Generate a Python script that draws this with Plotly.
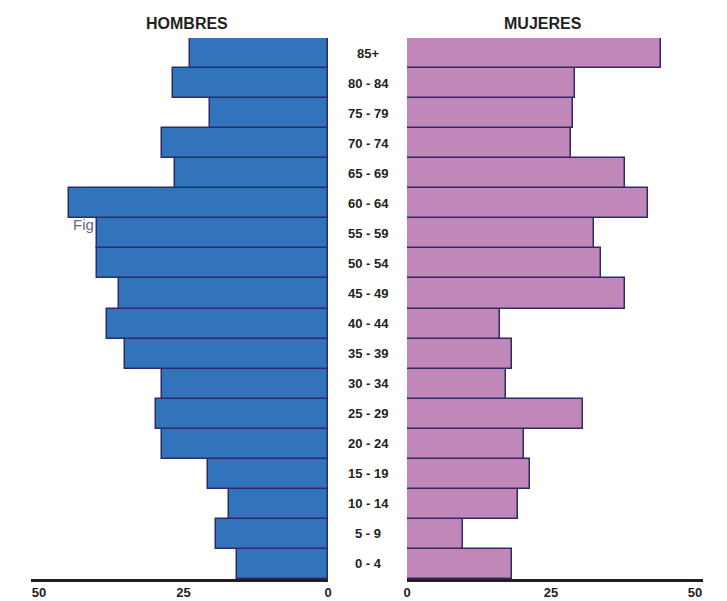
import plotly.graph_objects as go

categories = ["0 - 4", "5 - 9", "10 - 14", "15 - 19", "20 - 24", "25 - 29", "30 - 34",
              "35 - 39", "40 - 44", "45 - 49", "50 - 54", "55 - 59", "60 - 64",
              "65 - 69", "70 - 74", "75 - 79", "80 - 84", "85+"]
hombres = [15.7, 19.3, 17.2, 20.7, 28.8, 29.7, 28.8, 35.1, 38.3, 36.1, 40.0, 40.0, 44.9,
           26.5, 28.8, 20.5, 26.9, 23.8]
mujeres = [18.2, 9.7, 19.3, 21.4, 20.3, 30.6, 17.2, 18.2, 16.1, 37.8, 33.7, 32.5, 41.8,
           37.8, 28.5, 28.8, 29.2, 44.1]
tick_vals = [0, 25, 50]
tick_text = ["0", "25", "50"]

OFF = 8  # page body margin
W, H = 727 - OFF, 601 - OFF
ml, mr, mt, mb = 31 - OFF, 24, 38 - OFF, 22
pw = W - ml - mr
ph = H - mt - mb
def px(x):
    return (x - OFF - ml) / pw
def py(y):
    return 1 - (y - OFF - mt) / ph

dark = "#231f20"
outline = "#2e2a69"
font_fam = "Liberation Sans, Arial, sans-serif"

fig = go.Figure()
fig.add_trace(go.Bar(y=categories, x=hombres, orientation="h", xaxis="x", yaxis="y",
                     marker=dict(color="#3174bc", line=dict(color=outline, width=1.5)),
                     showlegend=False, hoverinfo="x+y"))
fig.add_trace(go.Bar(y=categories, x=mujeres, orientation="h", xaxis="x2", yaxis="y",
                     marker=dict(color="#c287b9", line=dict(color=outline, width=1.5)),
                     showlegend=False, hoverinfo="x+y"))

axis_common = dict(showgrid=False, zeroline=False, showline=True, linecolor=dark, linewidth=2.5,
                   tickvals=tick_vals, ticktext=tick_text, ticks="", fixedrange=True,
                   automargin=False,
                   tickfont=dict(family=font_fam, size=13, color=dark, weight="bold"))

annotations = []
for c in categories:
    annotations.append(dict(x=px(368), y=c, xref="paper", yref="y", text=c, showarrow=False,
                            font=dict(family=font_fam, size=13, color=dark, weight="bold"),
                            xanchor="center", yanchor="middle"))
annotations.append(dict(x=px(187), y=py(24), xref="paper", yref="paper",
                        text="HOMBRES", showarrow=False, xanchor="center", yanchor="middle",
                        font=dict(family=font_fam, size=16, color=dark, weight="bold")))
annotations.append(dict(x=px(543), y=py(24), xref="paper", yref="paper",
                        text="MUJERES", showarrow=False, xanchor="center", yanchor="middle",
                        font=dict(family=font_fam, size=16, color=dark, weight="bold")))
annotations.append(dict(x=px(71), y=py(224), xref="paper", yref="paper",
                        text="Fig", showarrow=False, xanchor="left", yanchor="middle",
                        font=dict(family=font_fam, size=15, color="#6d5f8f")))

fig.update_layout(
    width=W, height=H,
    margin=dict(l=ml, r=mr, t=mt, b=mb),
    paper_bgcolor="white", plot_bgcolor="white",
    bargap=0,
    xaxis=dict(domain=[0, px(328)], range=[51.4, 0], anchor="y", **axis_common),
    xaxis2=dict(domain=[px(407), 1], range=[0, 51.4], anchor="y", **axis_common),
    yaxis=dict(showticklabels=False, showgrid=False, zeroline=False, showline=False,
               range=[-0.5, 17.5], categoryorder="array", categoryarray=categories,
               fixedrange=True, automargin=False),
    annotations=annotations,
)

fig.write_html("out.html")
